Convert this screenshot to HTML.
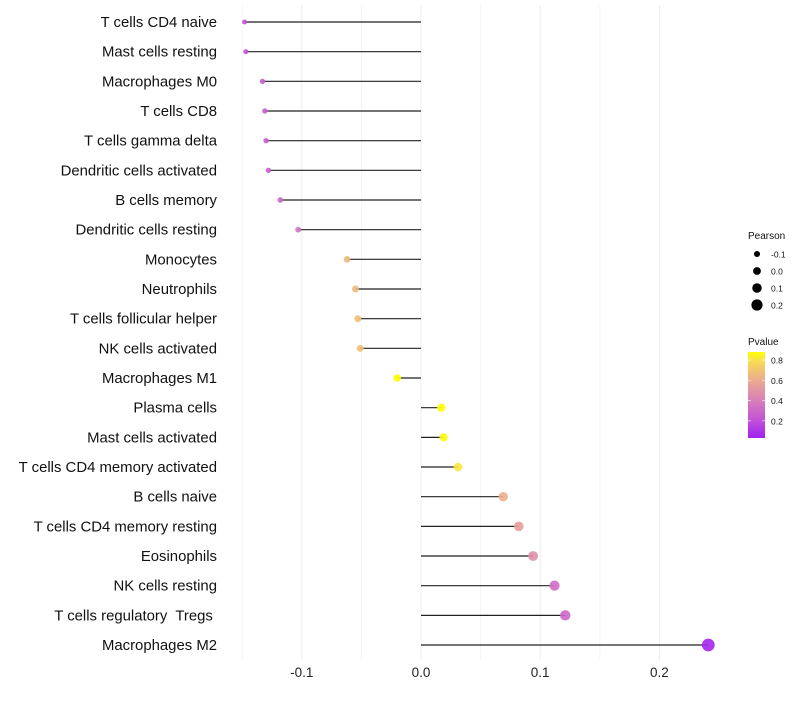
<!DOCTYPE html>
<html><head><meta charset="utf-8"><style>
body{margin:0;background:#fff;font-family:"Liberation Sans",sans-serif}
text{white-space:pre}
</style></head><body>
<svg id="c" width="800" height="700" xmlns="http://www.w3.org/2000/svg"></svg>
<script>
const categories=["T cells CD4 naive","Mast cells resting","Macrophages M0","T cells CD8","T cells gamma delta","Dendritic cells activated","B cells memory","Dendritic cells resting","Monocytes","Neutrophils","T cells follicular helper","NK cells activated","Macrophages M1","Plasma cells","Mast cells activated","T cells CD4 memory activated","B cells naive","T cells CD4 memory resting","Eosinophils","NK cells resting","T cells regulatory  Tregs ","Macrophages M2"];
const pearson=[-0.148,-0.147,-0.133,-0.131,-0.130,-0.128,-0.118,-0.103,-0.062,-0.055,-0.053,-0.051,-0.020,0.017,0.019,0.031,0.069,0.082,0.094,0.112,0.121,0.241];
const pvalue=[0.22,0.22,0.26,0.26,0.26,0.27,0.3,0.36,0.66,0.66,0.68,0.68,0.88,0.88,0.87,0.82,0.62,0.55,0.47,0.33,0.3,0.05];
const xTicks=[-0.1,0,0.1,0.2];
const xMinor=[-0.15,-0.05,0.05,0.15];
const sizeLegend=[-0.1,0,0.1,0.2];
const colorTicks=[0.8,0.6,0.4,0.2];
const NS="http://www.w3.org/2000/svg";
const svg=document.getElementById('c');
const X=v=>421+v*1192;
const Y=i=>22+i*29.667;
const R=v=>4+v*10;
const stops=[[0.03,[160,32,240]],[0.2,[192,80,216]],[0.4,[216,128,184]],[0.6,[235,170,144]],[0.8,[248,224,80]],[0.88,[255,255,0]]];
function col(p){if(p<=stops[0][0])return 'rgb('+stops[0][1]+')';for(let k=1;k<stops.length;k++){if(p<=stops[k][0]){const a=stops[k-1],b=stops[k];const t=(p-a[0])/(b[0]-a[0]);return 'rgb('+a[1].map((c,j)=>Math.round(c+(b[1][j]-c)*t)).join(',')+')';}}return 'rgb(255,255,0)';}
function el(t,a,p){const e=document.createElementNS(NS,t);for(const k in a)e.setAttribute(k,a[k]);(p||svg).appendChild(e);return e;}
xMinor.forEach(v=>{const l=el('line',{x1:X(v),x2:X(v),y1:5,y2:660,stroke:'#f5f5f5','stroke-width':1});

});
xTicks.forEach(v=>{const l=el('line',{x1:X(v),x2:X(v),y1:5,y2:660,stroke:'#ededed','stroke-width':1});


const t=el('text',{x:X(v),y:677,'text-anchor':'middle','font-size':13.5,fill:'#222'});t.textContent=(v===0?'0.0':String(v));

});
categories.forEach((c,i)=>{
const t=el('text',{x:217,y:Y(i)+5,'text-anchor':'end','font-size':14.9,fill:'#111'});t.textContent=c;


const l=el('line',{x1:X(0),x2:X(pearson[i]),y1:Y(i),y2:Y(i),stroke:'#222','stroke-width':1.2});


const d=el('circle',{cx:X(pearson[i]),cy:Y(i),r:R(pearson[i]),fill:col(pvalue[i]),'fill-opacity':0.9});


});
const g=el('g',{});
let tt=el('text',{x:748,y:239,'font-size':10,fill:'#111'},g);tt.textContent='Pearson';
sizeLegend.forEach((v,k)=>{const y=254+k*17;
const c=el('circle',{cx:757,cy:y,r:R(v)*0.85+0.5,fill:'#000'},g);


const t=el('text',{x:771,y:y+3.5,'font-size':8.5,fill:'#111'},g);t.textContent=(v===0?'0.0':String(v));

});
tt=el('text',{x:748,y:345,'font-size':10,fill:'#111'},g);tt.textContent='Pvalue';
const defs=el('defs',{});const lg=el('linearGradient',{id:'pg',x1:0,y1:1,x2:0,y2:0},defs);
stops.forEach(s=>el('stop',{offset:(s[0]-0.03)/0.85,'stop-color':'rgb('+s[1]+')'},lg));
const bar=el('rect',{x:748,y:352,width:17,height:86,fill:'url(#pg)'},g);

colorTicks.forEach(v=>{const y=438-(v-0.03)/0.85*86;
el('line',{x1:748,x2:751,y1:y,y2:y,stroke:'#fff','stroke-opacity':0.6},g);
el('line',{x1:762,x2:765,y1:y,y2:y,stroke:'#fff','stroke-opacity':0.6},g);
const t=el('text',{x:771,y:y+3.5,'font-size':8.5,fill:'#111'},g);t.textContent=String(v);

});
</script>
</body></html>
